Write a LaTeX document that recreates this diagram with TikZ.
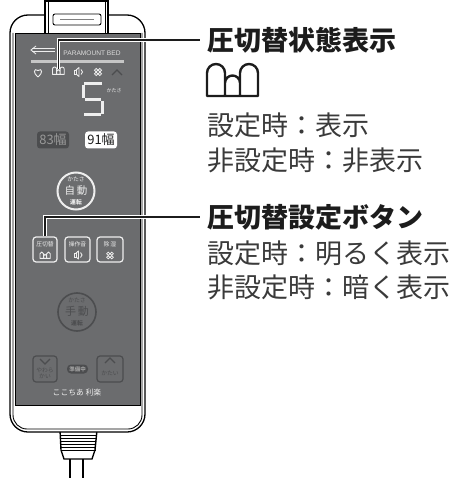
\documentclass[tikz,border=0pt]{standalone}
\usepackage{fontspec}
\usepackage{xcolor}
\newfontfamily\jp{Noto Sans CJK JP}
\newfontfamily\latin{Liberation Sans}
\usetikzlibrary{arrows.meta}

\definecolor{panel}{HTML}{6B6C6E}
\definecolor{paneldim}{HTML}{4C4D4F}
\definecolor{lit}{HTML}{EEEEEE}
\definecolor{ink}{HTML}{1C1C1C}
\definecolor{notegray}{HTML}{3A3A3A}

% pressure icon: three air cells standing on a base line
\tikzset{
  cells/.pic={
    \draw[line join=round] (0,32) -- (0,9) arc[start angle=180,end angle=360,radius=9]
      -- (18,32) -- (18,19) arc[start angle=180,end angle=360,radius=7.5]
      -- (33,32) -- (33,9) arc[start angle=180,end angle=360,radius=9] -- (51,32) -- cycle;
  }
}

\begin{document}
\begin{tikzpicture}[x=1pt,y=-1pt,
  head/.style={anchor=west,inner xsep=7pt,inner ysep=0pt,text=ink,
    font=\jp\bfseries\fontsize{27}{27}\selectfont},
  note/.style={anchor=west,inner xsep=7pt,inner ysep=0pt,text=notegray,
    font=\jp\fontsize{27}{27}\selectfont},
  leader/.style={draw=ink,line width=1.8pt,preaction={draw=white,line width=3.8pt}},
  keybox/.style={draw=lit,line width=1.2pt,rounded corners=3pt,
    minimum width=24pt,minimum height=25pt,inner sep=0pt},
  dimbox/.style={keybox,draw=paneldim},
  keytext/.style={inner sep=0pt,text=lit,font=\jp\fontsize{5.8}{6}\selectfont},
  iconline/.style={draw=lit,line width=0.9pt},
]
\useasboundingbox (0,0) rectangle (463,478);

% cord and strain relief
\draw[line width=1.4pt,fill=white] (60,430) -- (61,450) -- (64,459) -- (92,459) -- (95,450) -- (97,430) -- cycle;
\foreach \y in {435,438,...,450}
  \draw[line width=0.9pt] (61,\y) -- (96,\y);
\draw[line width=1.6pt] (70,459) -- (70,478);
\draw[line width=1.6pt] (83,459) -- (83,478);

% housing
\draw[line width=1.3pt,fill=white,rounded corners=18pt] (10,15) rectangle (145,432);
\draw[line width=0.9pt,rounded corners=14pt] (13,33) -- (13,429) -- (142,429) -- (142,33);
\fill[panel] (15,33) rectangle (140,405);
\draw[line width=0.9pt] (15,33) rectangle (140,405);

% hook tab on top
\draw[line width=1.2pt,fill=white] (45,33) -- (45,1) -- (108,1) -- (108,33);
\draw[line width=0.7pt] (48,33) -- (48,1);
\draw[line width=0.7pt] (105,33) -- (105,1);
\draw[line width=0.9pt,rounded corners=2pt] (53,14) rectangle (101,25);
\draw[gray,line width=0.8pt] (60,19.5) -- (94,19.5);

% maker logo and name
\draw[lit,line width=0.8pt] (32,48.5) -- (55,48.5);
\draw[lit,line width=0.8pt] (32,51.5) -- (55,51.5);
\draw[lit,line width=0.8pt] (36,46) -- (31,50) -- (36,54);
\node[inner sep=0pt,text=lit!85!gray,font=\latin\fontsize{6.6}{7}\selectfont] (maker) at (92,53) {PARAMOUNT BED};
\draw[gray!45,line width=3pt] (31,62) -- (124,62);

% status icons
\draw[iconline] (38,77) .. controls (33,73.5) and (33.5,67.5) .. (38,70.5) .. controls (42.5,67.5) and (43,73.5) .. (38,77);
\pic[draw=lit,line width=0.9pt,scale=0.23] (mmicon) at (52.5,67) {cells};
\draw[iconline] (74,70) rectangle (76,74);
\draw[iconline,line join=round] (76,70) -- (79,67.5) -- (79,76.5) -- (76,74);
\draw[iconline] (81,69.5) .. controls (83,71) and (83,73) .. (81,74.5);
\foreach \a in {45,135,225,315}
  \draw[iconline,line width=0.8pt] (98,72) ++(\a:2.6) circle (1.7);
\draw[paneldim,line width=1.3pt] (112,75) -- (117,70) -- (122,75);

% firmness digit
\draw[lit,line width=3pt] (84,84) -- (102,84);
\draw[lit,line width=3pt] (83.5,85) -- (83.5,98);
\draw[lit,line width=3pt] (85,99.5) -- (101,99.5);
\draw[lit,line width=3pt] (102,101) -- (102,114);
\draw[lit,line width=3pt] (84,115) -- (101,115);
\node[keytext,font=\jp\fontsize{5}{5}\selectfont] (digitlbl) at (114,91) {かたさ};

% width selection
\node[fill=paneldim,rounded corners=3pt,minimum width=32pt,minimum height=17pt,inner sep=0pt,
  text=gray!80,font=\jp\fontsize{13}{13}\selectfont] (w83) at (53,140) {83幅};
\node[fill=white,rounded corners=3pt,minimum width=32pt,minimum height=17pt,inner sep=0pt,
  text=ink,font=\jp\fontsize{13}{13}\selectfont] (w91) at (101,140) {91幅};

% automatic operation key
\node[circle,draw=lit,line width=2pt,minimum size=37pt] (autokey) at (76,191) {};
\node[keytext] (autotop) at (76,179) {かたさ};
\node[keytext,font=\jp\fontsize{10.5}{11}\selectfont] (automid) at (76,190.5) {自\,動};
\node[keytext,font=\jp\bfseries\fontsize{5.8}{6}\selectfont] (autobot) at (76,202) {運転};

% setting keys
\node[keybox] (presskey) at (45,249.5) {};
\node[keytext] (presslbl) at (45,244) {圧切替};
\pic[draw=lit,line width=0.9pt,scale=0.2] (pressicon) at (40,252) {cells};
\node[keybox,minimum width=25pt] (soundkey) at (77.5,249.5) {};
\node[keytext] (soundlbl) at (77.5,244) {操作音};
\draw[iconline] (74,253) rectangle (76,257);
\draw[iconline,line join=round] (76,253) -- (78.5,251) -- (78.5,259) -- (76,257);
\draw[iconline] (80.5,252.5) .. controls (82.5,254) and (82.5,256) .. (80.5,257.5);
\node[keybox,minimum width=26pt] (drykey) at (110,249.5) {};
\node[keytext] (drylbl) at (110,244) {除\,湿};
\foreach \a in {45,135,225,315}
  \draw[iconline,line width=0.8pt] (110,255.5) ++(\a:2.5) circle (1.6);

% manual operation key
\node[circle,draw=paneldim,line width=1.6pt,minimum size=38pt] (handkey) at (77,312) {};
\node[keytext,text=paneldim] (handtop) at (77,300) {かたさ};
\node[keytext,text=paneldim,font=\jp\fontsize{11}{11}\selectfont] (handmid) at (77,311.5) {手\,動};
\node[keytext,text=paneldim,font=\jp\bfseries\fontsize{5.8}{6}\selectfont] (handbot) at (77,323) {運転};

% softer / firmer keys
\node[dimbox,minimum height=26pt] (softkey) at (45,369) {};
\draw[paneldim,line width=1.4pt] (40,359) -- (45,364) -- (50,359);
\node[keytext,text=paneldim,align=center,font=\jp\fontsize{5.8}{6.2}\selectfont] (softlbl) at (45,373) {やわら\\かい};
\node[dimbox,minimum width=26pt,minimum height=26pt] (firmkey) at (110,369) {};
\draw[paneldim,line width=1.4pt] (105,363) -- (110,358) -- (115,363);
\node[keytext,text=paneldim] (firmlbl) at (110,373) {かたい};
\node[fill=paneldim,rounded corners=4pt,minimum width=21pt,minimum height=9pt,inner sep=0pt,
  text=gray!75,font=\jp\bfseries\fontsize{5.5}{6}\selectfont] (ready) at (77.5,369) {準備中};
\node[keytext,font=\jp\fontsize{7.8}{8}\selectfont] (brand) at (77,393) {ここちあ 利楽};

% callouts
\node[head] (statehead) at (200,40) {圧切替状態表示};
\pic[draw=ink,line width=2.4pt] (bigcells) at (207,64) {cells};
\node[note] (stateon) at (200,125) {設定時：表示};
\node[note] (stateoff) at (200,160) {非設定時：非表示};
\node[head] (keyhead) at (200,217) {圧切替設定ボタン};
\node[note] (keyon) at (200,253) {設定時：明るく表示};
\node[note] (keyoff) at (200,287) {非設定時：暗く表示};

\coordinate (mmtip) at (58.5,69);
\draw[leader] (mmtip) |- (statehead.west);
\draw[leader] (presskey.north) |- (keyhead.west);
\end{tikzpicture}
\end{document}
